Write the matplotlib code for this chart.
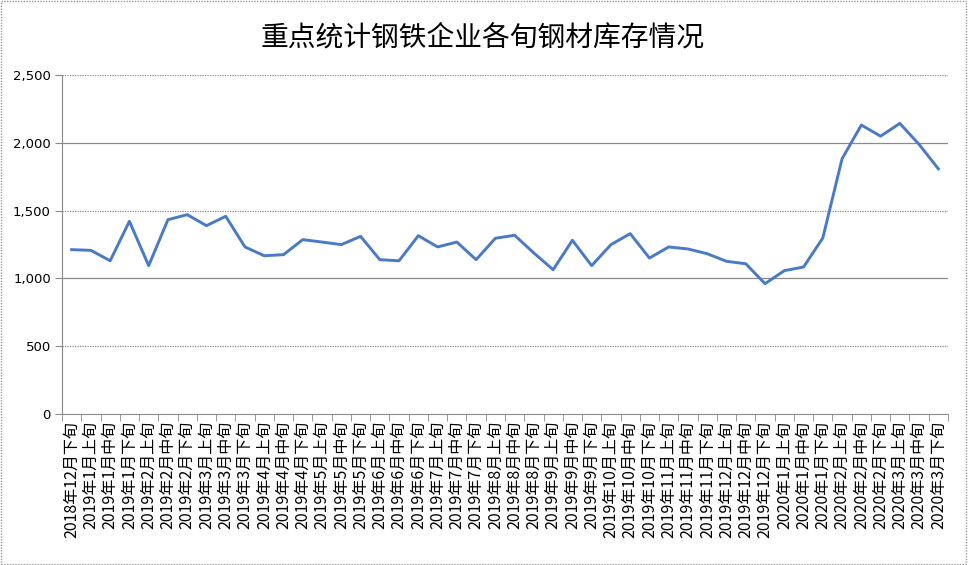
import matplotlib; matplotlib.use('Agg')
import matplotlib.pyplot as plt
from matplotlib.patches import Rectangle
from matplotlib.ticker import FuncFormatter

plt.rcParams['font.family'] = ['Noto Sans CJK SC', 'DejaVu Sans']

# ── 数据 ──────────────────────────────────────────────
periods = (['2018年12月下旬']
           + [f'2019年{m}月{p}' for m in range(1, 13) for p in ('上旬', '中旬', '下旬')]
           + [f'2020年{m}月{p}' for m in range(1, 4) for p in ('上旬', '中旬', '下旬')])

stock = [1212, 1207, 1130, 1421, 1094, 1433, 1470, 1389, 1458, 1232,
         1167, 1175, 1286, 1268, 1249, 1310, 1138, 1130, 1315, 1232,
         1268, 1138, 1296, 1318, 1187, 1064, 1281, 1094, 1249, 1330,
         1150, 1232, 1217, 1182, 1126, 1108, 961, 1057, 1084, 1298,
         1882, 2131, 2049, 2143, 1988, 1808]

title = '重点统计钢铁企业各旬钢材库存情况'
y_ticks = [0, 500, 1000, 1500, 2000, 2500]

# ── 图 ────────────────────────────────────────────────
W, H = 968, 565
fig = plt.figure(figsize=(W / 100, H / 100), dpi=100)
ax = fig.add_axes([62 / W, 1 - 414 / H, (948 - 62) / W, (414 - 75) / H])

x = list(range(len(stock)))
ax.plot(x, stock, color='#4A7AC6', lw=2.1, zorder=3)

ax.set_xlim(-0.5, len(stock) - 0.5)
ax.set_ylim(0, 2500)
ax.set_yticks(y_ticks)
ax.yaxis.set_major_formatter(FuncFormatter(lambda v, p: f'{int(v):,}'))

# 网格线（Excel 风格：实线 / 点线交替）
for v in y_ticks[1:]:
    ls = '-' if v in (1000, 2000) else (0, (1, 1))
    ax.axhline(v, color='#8a8a8a', lw=0.9, ls=ls, zorder=1)

for s in ('top', 'right'):
    ax.spines[s].set_visible(False)
ax.spines['left'].set_color('#8a8a8a')
ax.spines['left'].set_linestyle((0, (1, 1)))
ax.spines['bottom'].set_color('#8a8a8a')
ax.spines['bottom'].set_linestyle((0, (1, 1)))

ax.set_xticks(x)
ax.set_xticklabels(periods, rotation=90, fontsize=11.5, va='top', ha='center')
ax.set_xticks([i - 0.5 for i in range(len(stock) + 1)], minor=True)
ax.tick_params(axis='x', which='major', length=0, pad=5)
ax.tick_params(axis='x', which='minor', length=5, color='#8a8a8a')
ax.tick_params(axis='y', length=5, color='#8a8a8a', pad=3)
for lab in ax.get_yticklabels():
    lab.set_fontfamily('DejaVu Sans')
    lab.set_fontsize(9.5)

fig.text(483 / W, 1 - 38 / H, title, ha='center', va='center', fontsize=20)

# 外框点线
fig.patches.append(Rectangle((0.001, 0.001), 0.997, 0.997, transform=fig.transFigure,
                             fill=False, ec='#9a9a9a', lw=1, ls=(0, (1, 1))))

fig.savefig('out.png', dpi=100)
plt.close(fig)
